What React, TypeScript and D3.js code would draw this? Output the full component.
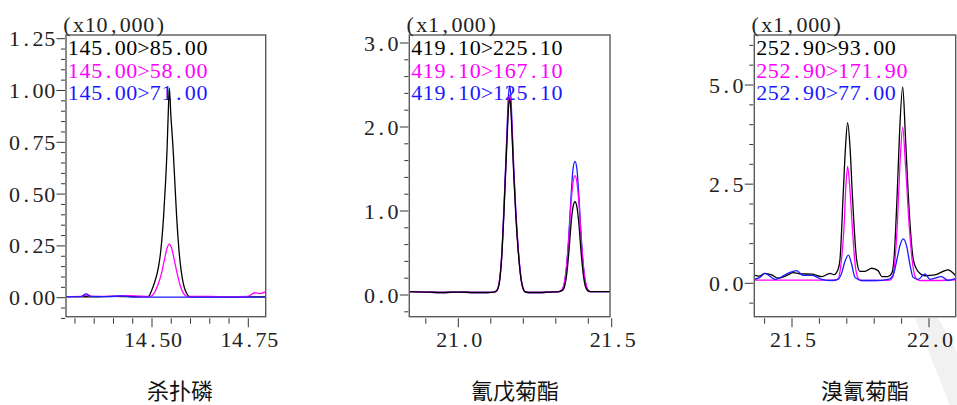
import React from 'react';
import * as d3 from 'd3';

type Pt = [number, number];

const SERIF = "'Liberation Serif', 'DejaVu Serif', serif";
const CJK = "'Noto Sans CJK SC', 'Noto Sans CJK JP', sans-serif";
const CW = 11.7;
const FS = 22;

const COLORS = ['#000000', '#ff00ff', '#1a1aff'];

// ---------- Panel 1 : 杀扑磷 (x10,000)
const p1Name = '杀扑磷';
const p1Unit = '(x10,000)';
const p1Legend = ['145.00>85.00', '145.00>58.00', '145.00>71.00'];
const p1YTicks = [0, 0.25, 0.5, 0.75, 1.0, 1.25];
const p1YLabels = ['0.00', '0.25', '0.50', '0.75', '1.00', '1.25'];
const p1XTicks = [14.5, 14.75];
const p1XLabels = ['14.50', '14.75'];
const p1Black: Pt[] = [
  [14.277, 0.005], [14.3, 0.005], [14.35, 0.004], [14.4, 0.006], [14.45, 0.005], [14.49, 0.005],
  [14.499, 0.035], [14.506, 0.07], [14.517, 0.15], [14.523, 0.23], [14.53, 0.39], [14.535, 0.55],
  [14.539, 0.71], [14.542, 0.88], [14.545, 1.01], [14.549, 0.88], [14.555, 0.71], [14.5595, 0.55],
  [14.564, 0.39], [14.57, 0.23], [14.581, 0.07], [14.59, 0.02], [14.598, 0.004], [14.65, 0.004],
  [14.7, 0.003], [14.75, 0.004], [14.8, 0.004],
];
const p1Magenta: Pt[] = [
  [14.277, 0.005], [14.315, 0.006], [14.33, 0.012], [14.345, 0.006], [14.4, 0.007], [14.44, 0.01],
  [14.47, 0.007], [14.495, 0.006], [14.505, 0.02], [14.515, 0.06], [14.525, 0.12], [14.533, 0.19],
  [14.54, 0.245], [14.545, 0.26], [14.55, 0.245], [14.557, 0.19], [14.565, 0.12], [14.573, 0.06],
  [14.582, 0.02], [14.592, 0.006], [14.65, 0.006], [14.7, 0.004], [14.749, 0.006], [14.767, 0.024],
  [14.78, 0.02], [14.8, 0.032],
];
const p1Blue: Pt[] = [
  [14.277, 0.004], [14.315, 0.005], [14.329, 0.018], [14.343, 0.006], [14.39, 0.005], [14.42, 0.009],
  [14.435, 0.006], [14.46, 0.003], [14.5, 0.003], [14.6, 0.003], [14.7, 0.003], [14.8, 0.003],
];

// ---------- Panel 2 : 氰戊菊酯 (x1,000)
const p2Name = '氰戊菊酯';
const p2Unit = '(x1,000)';
const p2Legend = ['419.10>225.10', '419.10>167.10', '419.10>125.10'];
const p2YTicks = [0, 1, 2, 3];
const p2YLabels = ['0.0', '1.0', '2.0', '3.0'];
const p2XTicks = [21.0, 21.5];
const p2XLabels = ['21.0', '21.5'];
const p2Black: Pt[] = [
  [20.84, 0.04], [20.9, 0.035], [20.95, 0.03], [21.0, 0.035], [21.05, 0.03], [21.09, 0.03],
  [21.11, 0.035], [21.118, 0.05], [21.126, 0.14], [21.135, 0.54], [21.14, 0.94], [21.145, 1.4],
  [21.15, 1.85], [21.154, 2.2], [21.158, 2.34], [21.162, 2.2], [21.166, 1.85], [21.171, 1.4],
  [21.177, 0.94], [21.184, 0.54], [21.195, 0.14], [21.205, 0.04], [21.215, 0.03], [21.25, 0.03],
  [21.28, 0.035], [21.31, 0.04], [21.322, 0.06], [21.332, 0.2], [21.34, 0.5], [21.347, 0.85],
  [21.353, 1.05], [21.359, 1.11], [21.365, 1.05], [21.371, 0.85], [21.378, 0.5], [21.386, 0.2],
  [21.396, 0.06], [21.405, 0.04], [21.43, 0.04], [21.47, 0.04],
];
const p2Magenta: Pt[] = [
  [20.84, 0.04], [20.9, 0.035], [20.95, 0.03], [21.0, 0.035], [21.05, 0.03], [21.09, 0.03],
  [21.11, 0.035], [21.118, 0.05], [21.126, 0.15], [21.135, 0.56], [21.14, 0.97], [21.145, 1.43],
  [21.15, 1.9], [21.154, 2.25], [21.158, 2.38], [21.162, 2.25], [21.166, 1.9], [21.171, 1.43],
  [21.177, 0.97], [21.184, 0.56], [21.195, 0.15], [21.205, 0.04], [21.215, 0.03], [21.25, 0.03],
  [21.28, 0.035], [21.31, 0.04], [21.32, 0.07], [21.33, 0.24], [21.339, 0.62], [21.346, 1.05],
  [21.353, 1.34], [21.359, 1.42], [21.365, 1.34], [21.372, 1.05], [21.379, 0.62], [21.388, 0.24],
  [21.398, 0.07], [21.407, 0.04], [21.43, 0.04], [21.47, 0.04],
];
const p2Blue: Pt[] = [
  [20.84, 0.04], [20.9, 0.035], [20.95, 0.03], [21.0, 0.035], [21.05, 0.03], [21.09, 0.03],
  [21.11, 0.035], [21.118, 0.05], [21.126, 0.15], [21.135, 0.57], [21.14, 1.0], [21.145, 1.48],
  [21.15, 1.97], [21.154, 2.35], [21.158, 2.49], [21.162, 2.35], [21.166, 1.97], [21.171, 1.48],
  [21.177, 1.0], [21.184, 0.57], [21.195, 0.15], [21.205, 0.04], [21.215, 0.03], [21.25, 0.03],
  [21.28, 0.035], [21.31, 0.04], [21.321, 0.07], [21.331, 0.26], [21.34, 0.7], [21.347, 1.18],
  [21.353, 1.5], [21.359, 1.59], [21.365, 1.5], [21.371, 1.18], [21.378, 0.7], [21.387, 0.26],
  [21.397, 0.07], [21.406, 0.04], [21.43, 0.04], [21.47, 0.04],
];

// ---------- Panel 3 : 溴氰菊酯 (x1,000)
const p3Name = '溴氰菊酯';
const p3Unit = '(x1,000)';
const p3Legend = ['252.90>93.00', '252.90>171.90', '252.90>77.00'];
const p3YTicks = [0, 2.5, 5];
const p3YLabels = ['0.0', '2.5', '5.0'];
const p3XTicks = [21.5, 22.0];
const p3XLabels = ['21.5', '22.0'];
const p3Black: Pt[] = [
  [21.36, 0.21], [21.38, 0.18], [21.401, 0.25], [21.426, 0.21], [21.449, 0.13], [21.485, 0.21],
  [21.504, 0.27], [21.529, 0.24], [21.572, 0.23], [21.608, 0.17], [21.639, 0.25], [21.653, 0.22],
  [21.668, 0.35], [21.675, 0.59], [21.687, 2.27], [21.695, 3.4], [21.703, 4.05], [21.712, 3.4],
  [21.72, 2.27], [21.736, 0.59], [21.748, 0.3], [21.766, 0.3], [21.791, 0.38], [21.814, 0.32],
  [21.828, 0.17], [21.85, 0.17], [21.864, 0.25], [21.872, 0.59], [21.884, 2.27], [21.892, 3.7],
  [21.904, 4.95], [21.914, 3.7], [21.924, 2.27], [21.943, 0.59], [21.96, 0.3], [21.985, 0.19],
  [22.022, 0.21], [22.069, 0.34], [22.1, 0.17],
];
const p3Magenta: Pt[] = [
  [21.36, 0.08], [21.45, 0.08], [21.55, 0.08], [21.657, 0.08], [21.669, 0.12], [21.679, 0.5],
  [21.69, 1.43], [21.697, 2.5], [21.703, 2.95], [21.71, 2.5], [21.72, 1.43], [21.73, 0.5],
  [21.742, 0.12], [21.752, 0.07], [21.8, 0.07], [21.858, 0.08], [21.867, 0.15], [21.876, 0.6],
  [21.884, 1.43], [21.894, 3.0], [21.904, 3.94], [21.914, 3.0], [21.928, 1.43], [21.94, 0.5],
  [21.955, 0.1], [21.967, 0.07], [22.03, 0.07], [22.1, 0.09],
];
const p3Blue: Pt[] = [
  [21.36, 0.1], [21.383, 0.15], [21.401, 0.25], [21.438, 0.1], [21.485, 0.25], [21.517, 0.32],
  [21.54, 0.2], [21.572, 0.2], [21.608, 0.1], [21.645, 0.07], [21.668, 0.1], [21.681, 0.25],
  [21.693, 0.55], [21.706, 0.71], [21.717, 0.5], [21.73, 0.15], [21.754, 0.07], [21.803, 0.07],
  [21.851, 0.1], [21.869, 0.2], [21.883, 0.6], [21.894, 0.95], [21.906, 1.12], [21.918, 0.95],
  [21.931, 0.45], [21.942, 0.15], [21.96, 0.1], [21.985, 0.24], [22.004, 0.1], [22.046, 0.17],
  [22.069, 0.07], [22.1, 0.13],
];

type PanelCfg = {
  id: string;
  name: string;
  unit: string;
  legend: string[];
  series: Pt[][];
  order: number[];
  yTicks: number[];
  yLabels: string[];
  xTicks: number[];
  xLabels: string[];
  xMinorStep: number;
  yMinorStep: number;
  box: { l: number; r: number; t: number; b: number };
  xAnchor: [number, number, number, number];
  yAnchor: [number, number, number, number];
  nameX: number;
};

const panels: PanelCfg[] = [
  {
    id: 'p1', name: p1Name, unit: p1Unit, legend: p1Legend,
    series: [p1Black, p1Magenta, p1Blue], order: [0, 1, 2],
    yTicks: p1YTicks, yLabels: p1YLabels, xTicks: p1XTicks, xLabels: p1XLabels,
    xMinorStep: 0.05, yMinorStep: 0.05,
    box: { l: 66, r: 265.7, t: 35, b: 316.7 },
    xAnchor: [14.5, 14.75, 152, 248.3], yAnchor: [0, 1.25, 297.7, 38.7],
    nameX: 180,
  },
  {
    id: 'p2', name: p2Name, unit: p2Unit, legend: p2Legend,
    series: [p2Black, p2Magenta, p2Blue], order: [2, 1, 0],
    yTicks: p2YTicks, yLabels: p2YLabels, xTicks: p2XTicks, xLabels: p2XLabels,
    xMinorStep: 0.1, yMinorStep: 0.2,
    box: { l: 409.3, r: 610, t: 35, b: 316.7 },
    xAnchor: [21.0, 21.4, 458.3, 588.3], yAnchor: [0, 3, 295, 43],
    nameX: 515,
  },
  {
    id: 'p3', name: p3Name, unit: p3Unit, legend: p3Legend,
    series: [p3Black, p3Magenta, p3Blue], order: [0, 1, 2],
    yTicks: p3YTicks, yLabels: p3YLabels, xTicks: p3XTicks, xLabels: p3XLabels,
    xMinorStep: 0.1, yMinorStep: 0.5,
    box: { l: 754.3, r: 955.7, t: 35, b: 316.7 },
    xAnchor: [21.5, 22.0, 792, 929], yAnchor: [0, 5, 283.3, 85],
    nameX: 865,
  },
];

function Mono({ text, x, y, anchor, fill }: { text: string; x: number; y: number; anchor: 'start' | 'middle' | 'end'; fill: string }) {
  const n = text.length;
  let x0 = x;
  if (anchor === 'middle') x0 = x - (n * CW) / 2;
  if (anchor === 'end') x0 = x - n * CW;
  return (
    <g fill={fill} fontFamily={SERIF} fontSize={FS}>
      {text.split('').map((c, i) => (
        <text key={i} x={x0 + (i + 0.5) * CW} y={y} textAnchor="middle">{c}</text>
      ))}
    </g>
  );
}

function Panel({ p }: { p: PanelCfg }) {
  const { box } = p;
  const x = d3.scaleLinear().domain([p.xAnchor[0], p.xAnchor[1]]).range([p.xAnchor[2], p.xAnchor[3]]);
  const y = d3.scaleLinear().domain([p.yAnchor[0], p.yAnchor[1]]).range([p.yAnchor[2], p.yAnchor[3]]);
  const line = d3.line<Pt>().x(d => x(d[0])).y(d => y(d[1])).curve(d3.curveMonotoneX);

  const xMin = x.invert(box.l), xMax = x.invert(box.r);
  const yMin = y.invert(box.b + 2), yMax = y.invert(box.t);
  const xMinor: number[] = [];
  for (let v = Math.ceil(xMin / p.xMinorStep) * p.xMinorStep; v <= xMax + 1e-9; v += p.xMinorStep) {
    const r = Math.round(v * 1000) / 1000;
    if (!p.xTicks.some(t => Math.abs(t - r) < 1e-6)) xMinor.push(r);
  }
  const yMinor: number[] = [];
  for (let v = Math.ceil(yMin / p.yMinorStep) * p.yMinorStep; v <= yMax + 1e-9; v += p.yMinorStep) {
    const r = Math.round(v * 1000) / 1000;
    if (!p.yTicks.some(t => Math.abs(t - r) < 1e-6)) yMinor.push(r);
  }
  const xPos = (t: number) => Math.min(x(t), box.r + 1.7);
  const axisCol = '#333';

  return (
    <g>
      <defs>
        <clipPath id={`clip-${p.id}`}>
          <rect x={box.l} y={box.t} width={box.r - box.l} height={box.b - box.t} />
        </clipPath>
      </defs>
      {/* legend */}
      {p.legend.map((s, i) => (
        <Mono key={i} text={s} x={box.l + 1.5} y={55 + i * 22.6} anchor="start" fill={COLORS[i]} />
      ))}
      {/* traces */}
      <g clipPath={`url(#clip-${p.id})`} fill="none" strokeWidth={1.3} strokeLinejoin="round">
        {p.order.map(i => (
          <path key={i} d={line(p.series[i]) || ''} stroke={COLORS[i]} />
        ))}
      </g>
      {/* frame */}
      <rect x={box.l} y={box.t} width={box.r - box.l} height={box.b - box.t} fill="none" stroke="#5a5a5a" strokeWidth={1.4} />
      {/* y ticks */}
      {yMinor.map((v, i) => (
        <line key={'ym' + i} x1={box.l - 1} x2={box.l - 5} y1={y(v)} y2={y(v)} stroke={axisCol} strokeWidth={1} />
      ))}
      {p.yTicks.map((v, i) => (
        <g key={'yM' + i}>
          <line x1={box.l - 1} x2={box.l - 9.5} y1={y(v)} y2={y(v)} stroke={axisCol} strokeWidth={1} />
          <Mono text={p.yLabels[i]} x={box.l - 10.5} y={y(v) + 7.5} anchor="end" fill="#222" />
        </g>
      ))}
      {/* x ticks */}
      {xMinor.map((v, i) => (
        <line key={'xm' + i} x1={x(v)} x2={x(v)} y1={box.b + 1.5} y2={box.b + 7} stroke={axisCol} strokeWidth={1} />
      ))}
      {p.xTicks.map((v, i) => (
        <g key={'xM' + i}>
          <line x1={xPos(v)} x2={xPos(v)} y1={box.b + 1.5} y2={box.b + 10.5} stroke={axisCol} strokeWidth={1} />
          <Mono text={p.xLabels[i]} x={xPos(v) + 1} y={347} anchor="middle" fill="#222" />
        </g>
      ))}
      {/* unit */}
      <Mono text={p.unit} x={box.l - 5} y={32} anchor="start" fill="#222" />
      {/* compound name */}
      <text x={p.nameX} y={399} textAnchor="middle" fontFamily={CJK} fontSize={22} fill="#111">{p.name}</text>
    </g>
  );
}

export default function App() {
  return (
    <svg width={957} height={405} style={{ position: 'absolute', left: 0, top: 0, background: '#fff' }}>
      <rect x={0} y={0} width={957} height={405} fill="#fff" />
      <polygon points="915,318 938,318 957,352 957,405 950,405" fill="#f1f1f1" />
      {panels.map(p => <Panel key={p.id} p={p} />)}
    </svg>
  );
}
